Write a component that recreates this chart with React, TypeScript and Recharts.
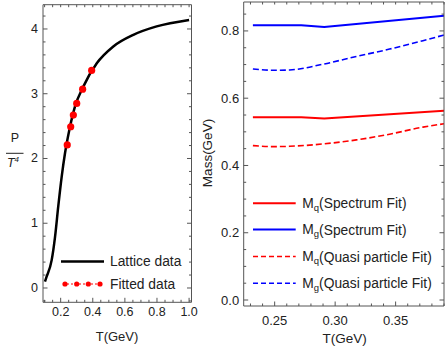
import { ComposedChart, LineChart, Line, XAxis, YAxis } from "recharts";

// left panel: P/T^4 vs T
const latticeT = [0.1025, 0.109, 0.144, 0.165, 0.185, 0.2065, 0.227, 0.254, 0.289, 0.341, 0.425, 0.528, 0.653, 0.798, 1.0];
const latticeP = [0.1, 0.15, 0.43, 0.79, 1.26, 1.72, 2.08, 2.44, 2.8, 3.11, 3.47, 3.73, 3.91, 4.04, 4.14];
const fittedT = [0.241, 0.2626, 0.279, 0.3, 0.337, 0.393];
const fittedP = [2.21, 2.49, 2.67, 2.85, 3.07, 3.36];

// right panel: masses vs T
const specT = [0.232, 0.272, 0.291, 0.39];
const mgSpec = [0.817, 0.817, 0.812, 0.8455];
const mqSpec = [0.543, 0.543, 0.54, 0.563];
const quasiT = [0.232, 0.2486, 0.2624, 0.29, 0.3175, 0.345, 0.3726, 0.39];
const mgQuasi = [0.687, 0.683, 0.684, 0.701, 0.724, 0.746, 0.771, 0.788];
const mqQuasi = [0.459, 0.456, 0.457, 0.464, 0.476, 0.493, 0.514, 0.524];

const leftXMajor = [0.2, 0.4, 0.6, 0.8, 1.0];
const leftYMajor = [0, 1, 2, 3, 4];
const rightXMajor = [0.25, 0.3, 0.35];
const rightYMajor = [0, 0.2, 0.4, 0.6, 0.8];

const steps = (from: number, to: number, step: number) => {
  const out: number[] = [];
  for (let i = 0; from + i * step <= to + 1e-9; i++) out.push(+(from + i * step).toFixed(4));
  return out;
};

const leftXTicks = steps(0.1, 1.0, 0.05);
const leftYTicks = steps(-0.2, 4.2, 0.2);
const rightXTicks = steps(0.23, 0.39, 0.01);
const rightYTicks = steps(0, 0.85, 0.05);

const zip = (xs: number[], ys: number[], k: string) => xs.map((t, i) => ({ t, [k]: ys[i] }));

const FONT = '"Liberation Sans", Arial, sans-serif';
const FRAME = "#555";

const makeTick =
  (side: string, majors: number[], digits: number, fontSize: number, gap: number) =>
  (props: any) => {
    const { x, y, payload } = props;
    const v = payload.value;
    const major = majors.some((m) => Math.abs(m - v) < 1e-6);
    const len = major ? 4.5 : 2.5;
    let line = null;
    let label = null;
    if (side === "bottom") {
      line = <line x1={x} y1={y} x2={x} y2={y - len} stroke={FRAME} />;
      if (major)
        label = (
          <text x={x} y={y + gap} textAnchor="middle" dominantBaseline="central" fontSize={fontSize} fontFamily={FONT} fill="#222">
            {v.toFixed(digits)}
          </text>
        );
    } else if (side === "top") {
      line = <line x1={x} y1={y} x2={x} y2={y + len} stroke={FRAME} />;
    } else if (side === "left") {
      line = <line x1={x} y1={y} x2={x + len} y2={y} stroke={FRAME} />;
      if (major)
        label = (
          <text x={x - gap} y={y} textAnchor="end" dominantBaseline="central" fontSize={fontSize} fontFamily={FONT} fill="#222">
            {v.toFixed(digits)}
          </text>
        );
    } else {
      line = <line x1={x} y1={y} x2={x - len} y2={y} stroke={FRAME} />;
    }
    return (
      <g>
        {line}
        {label}
      </g>
    );
  };

const axisCommon = {
  type: "number" as const,
  allowDataOverflow: true,
  interval: 0 as const,
  tickSize: 0,
  tickMargin: 0,
  tickLine: false,
  axisLine: { stroke: FRAME },
};

const LeftPanel = () => (
  <div style={{ position: "absolute", left: 0, top: 0 }}>
    <ComposedChart width={200} height={349} margin={{ top: 3.7, right: 7.5, bottom: 16.7, left: 13 }}>
      <XAxis {...axisCommon} dataKey="t" domain={[0.09, 1.015]} ticks={leftXTicks} height={30} tick={makeTick("bottom", leftXMajor, 1, 12.5, 10)} />
      <XAxis {...axisCommon} xAxisId="top" orientation="top" dataKey="t" domain={[0.09, 1.015]} ticks={leftXTicks} height={1} tick={makeTick("top", [], 1, 12, 0)} />
      <YAxis {...axisCommon} domain={[-0.221, 4.375]} ticks={leftYTicks} width={30} tick={makeTick("left", leftYMajor, 0, 12.5, 5)} />
      <YAxis {...axisCommon} yAxisId="r" orientation="right" domain={[-0.221, 4.375]} ticks={leftYTicks} width={1} tick={makeTick("right", leftYMajor, 0, 12, 0)} />
      <Line data={zip(latticeT, latticeP, "p")} dataKey="p" type="monotone" stroke="#000" strokeWidth={2.5} dot={false} isAnimationActive={false} />
      <Line data={zip(fittedT, fittedP, "p")} dataKey="p" stroke="none" dot={{ r: 3.6, fill: "#ff0000", stroke: "none" }} isAnimationActive={false} />
    </ComposedChart>
  </div>
);

const RightPanel = () => (
  <div style={{ position: "absolute", left: 0, top: 0 }}>
    <LineChart width={446} height={349} margin={{ top: 1, right: 1, bottom: 13, left: 213.7 }}>
      <XAxis {...axisCommon} dataKey="t" domain={[0.2244, 0.39]} ticks={rightXTicks} height={30} tick={makeTick("bottom", rightXMajor, 2, 13, 14)} />
      <XAxis {...axisCommon} xAxisId="top" orientation="top" dataKey="t" domain={[0.2244, 0.39]} ticks={rightXTicks} height={1} tick={makeTick("top", [], 2, 12, 0)} />
      <YAxis {...axisCommon} domain={[-0.0178, 0.886]} ticks={rightYTicks} width={30} tick={makeTick("left", rightYMajor, 1, 13, 4.5)} />
      <YAxis {...axisCommon} yAxisId="r" orientation="right" domain={[-0.0178, 0.886]} ticks={rightYTicks} width={1} tick={makeTick("right", rightYMajor, 1, 12, 0)} />
      <Line data={zip(specT, mqSpec, "m")} dataKey="m" type="linear" stroke="#ff0000" strokeWidth={2} dot={false} isAnimationActive={false} />
      <Line data={zip(specT, mgSpec, "m")} dataKey="m" type="linear" stroke="#0000ff" strokeWidth={2} dot={false} isAnimationActive={false} />
      <Line data={zip(quasiT, mqQuasi, "m")} dataKey="m" type="monotone" stroke="#ff0000" strokeWidth={1.6} strokeDasharray="6 3" dot={false} isAnimationActive={false} />
      <Line data={zip(quasiT, mgQuasi, "m")} dataKey="m" type="monotone" stroke="#0000ff" strokeWidth={1.6} strokeDasharray="6 3" dot={false} isAnimationActive={false} />
    </LineChart>
  </div>
);

const rightLegend = [
  { sub: "q", name: "(Spectrum Fit)", color: "#ff0000", dash: undefined },
  { sub: "g", name: "(Spectrum Fit)", color: "#0000ff", dash: undefined },
  { sub: "q", name: "(Quasi particle Fit)", color: "#ff0000", dash: "5 3" },
  { sub: "g", name: "(Quasi particle Fit)", color: "#0000ff", dash: "5 3" },
];
const rightLegendY = [203.3, 229.5, 256.5, 283.3];

const Overlay = () => (
  <svg width={446} height={349} style={{ position: "absolute", left: 0, top: 0, pointerEvents: "none" }} fontFamily={FONT}>
    {/* left y label as fraction */}
    <text x={15} y={137.5} textAnchor="middle" dominantBaseline="central" fontSize={12.5} fill="#222">P</text>
    <line x1={6} x2={23.5} y1={153.3} y2={153.3} stroke="#222" strokeWidth={1} />
    <text x={13} y={163} textAnchor="middle" dominantBaseline="central" fontSize={12.5} fill="#222" fontStyle="italic">
      T<tspan fontSize={8} dy={-4}>4</tspan>
    </text>
    <text x={117} y={336} textAnchor="middle" dominantBaseline="central" fontSize={13} fill="#222">T(GeV)</text>
    {/* left legend */}
    <line x1={61} x2={104} y1={261.5} y2={261.5} stroke="#000" strokeWidth={2.5} />
    <text x={110} y={261.5} dominantBaseline="central" fontSize={13.8} fill="#222">Lattice data</text>
    <line x1={63} x2={102} y1={284} y2={284} stroke="#ff0000" strokeWidth={1} strokeDasharray="2 2" />
    {[65, 76.7, 88.3, 100].map((cx) => (
      <circle key={cx} cx={cx} cy={284} r={2.6} fill="#ff0000" />
    ))}
    <text x={110} y={284} dominantBaseline="central" fontSize={13.8} fill="#222">Fitted data</text>

    {/* right panel labels */}
    <text transform="translate(207,153) rotate(-90)" textAnchor="middle" dominantBaseline="central" fontSize={13.5} fill="#222">Mass(GeV)</text>
    <text x={344.7} y={338} textAnchor="middle" dominantBaseline="central" fontSize={13.5} fill="#222">T(GeV)</text>
    {rightLegend.map((e, i) => (
      <g key={i}>
        <line x1={253} x2={295.7} y1={rightLegendY[i]} y2={rightLegendY[i]} stroke={e.color} strokeWidth={e.dash ? 1.4 : 2} strokeDasharray={e.dash} />
        <text x={302.3} y={rightLegendY[i]} dominantBaseline="central" fontSize={13.8} fill="#222">
          M<tspan fontSize={9.5} dy={3.5}>{e.sub}</tspan>
          <tspan dy={-3.5}>{e.name}</tspan>
        </text>
      </g>
    ))}
  </svg>
);

export default function App() {
  return (
    <div style={{ position: "absolute", left: 0, top: 0, width: 446, height: 349, background: "#fff" }}>
      <LeftPanel />
      <RightPanel />
      <Overlay />
    </div>
  );
}
